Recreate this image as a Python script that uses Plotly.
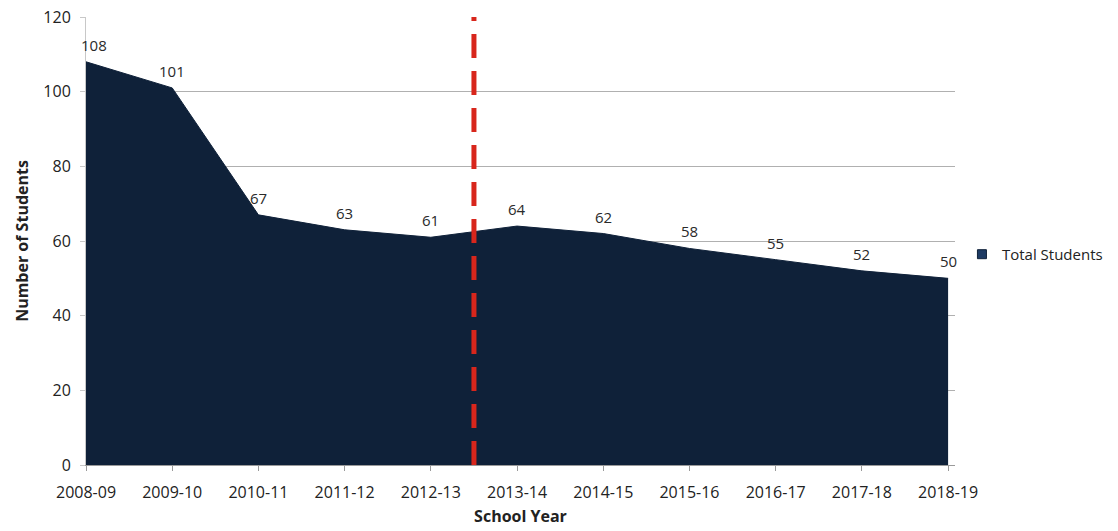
import plotly.graph_objects as go

school_years = ["2008-09", "2009-10", "2010-11", "2011-12", "2012-13", "2013-14",
                "2014-15", "2015-16", "2016-17", "2017-18", "2018-19"]
total_students = [108, 101, 67, 63, 61, 64, 62, 58, 55, 52, 50]
y_ticks = [0, 20, 40, 60, 80, 100, 120]

FILL = "#0f2139"
FONT = "Open Sans"
x_idx = list(range(len(school_years)))

fig = go.Figure()

# Shaded area for the enrolment series
fig.add_trace(go.Scatter(
    x=x_idx, y=total_students, mode="lines",
    fill="tozeroy", fillcolor=FILL, line=dict(color=FILL, width=1),
    showlegend=False, hoverinfo="x+y",
))

# Legend entry drawn as a square swatch
fig.add_trace(go.Scatter(
    x=[None], y=[None], mode="markers", name="Total Students",
    marker=dict(symbol="square", size=9, color="#1d3a63",
                line=dict(color=FILL, width=1)),
))

# Value labels above each point
for xi, v in zip(x_idx, total_students):
    fig.add_annotation(x=xi, y=v, text=str(v), showarrow=False,
                       xanchor="center", yanchor="middle", yshift=17,
                       xshift=8 if xi == 0 else 0,
                       font=dict(family=FONT, size=15, color="#2a2a2a"))

# Divider between 2012-13 and 2013-14
fig.add_shape(type="line", xref="x", yref="y", x0=4.5, x1=4.5, y0=0, y1=120,
              line=dict(color="#d8261c", width=5, dash="24px,13px"), layer="above")

fig.update_layout(
    width=1118, height=531,
    margin=dict(l=86, r=163, t=17, b=66, autoexpand=False),
    paper_bgcolor="white", plot_bgcolor="white",
    font=dict(family=FONT, size=16, color="#222222"),
    legend=dict(x=1.008, y=0.47, xanchor="left", yanchor="middle",
                font=dict(family=FONT, size=15, color="#222222"),
                itemwidth=30, bgcolor="rgba(0,0,0,0)"),
    xaxis=dict(
        range=[0, 10.08], tickmode="array", tickvals=x_idx, ticktext=school_years,
        showgrid=False, zeroline=False, showline=True, linecolor="#9a9a9a",
        ticks="outside", ticklen=5, tickcolor="#9a9a9a", ticklabelstandoff=8,
        tickfont=dict(family=FONT, size=16),
        title=dict(text="<b>School Year</b>", font=dict(family=FONT, size=16), standoff=8),
    ),
    yaxis=dict(
        range=[0, 120], tickmode="array", tickvals=y_ticks,
        showgrid=True, gridcolor="#b0b0b0", gridwidth=1, zeroline=False,
        showline=True, linecolor="#c8c8c8", ticks="outside", ticklen=5,
        tickcolor="#c8c8c8", ticklabelstandoff=6, tickfont=dict(family=FONT, size=16),
        title=dict(text="<b>Number of Students</b>", font=dict(family=FONT, size=16), standoff=10),
    ),
)

fig.write_html("out.html")
